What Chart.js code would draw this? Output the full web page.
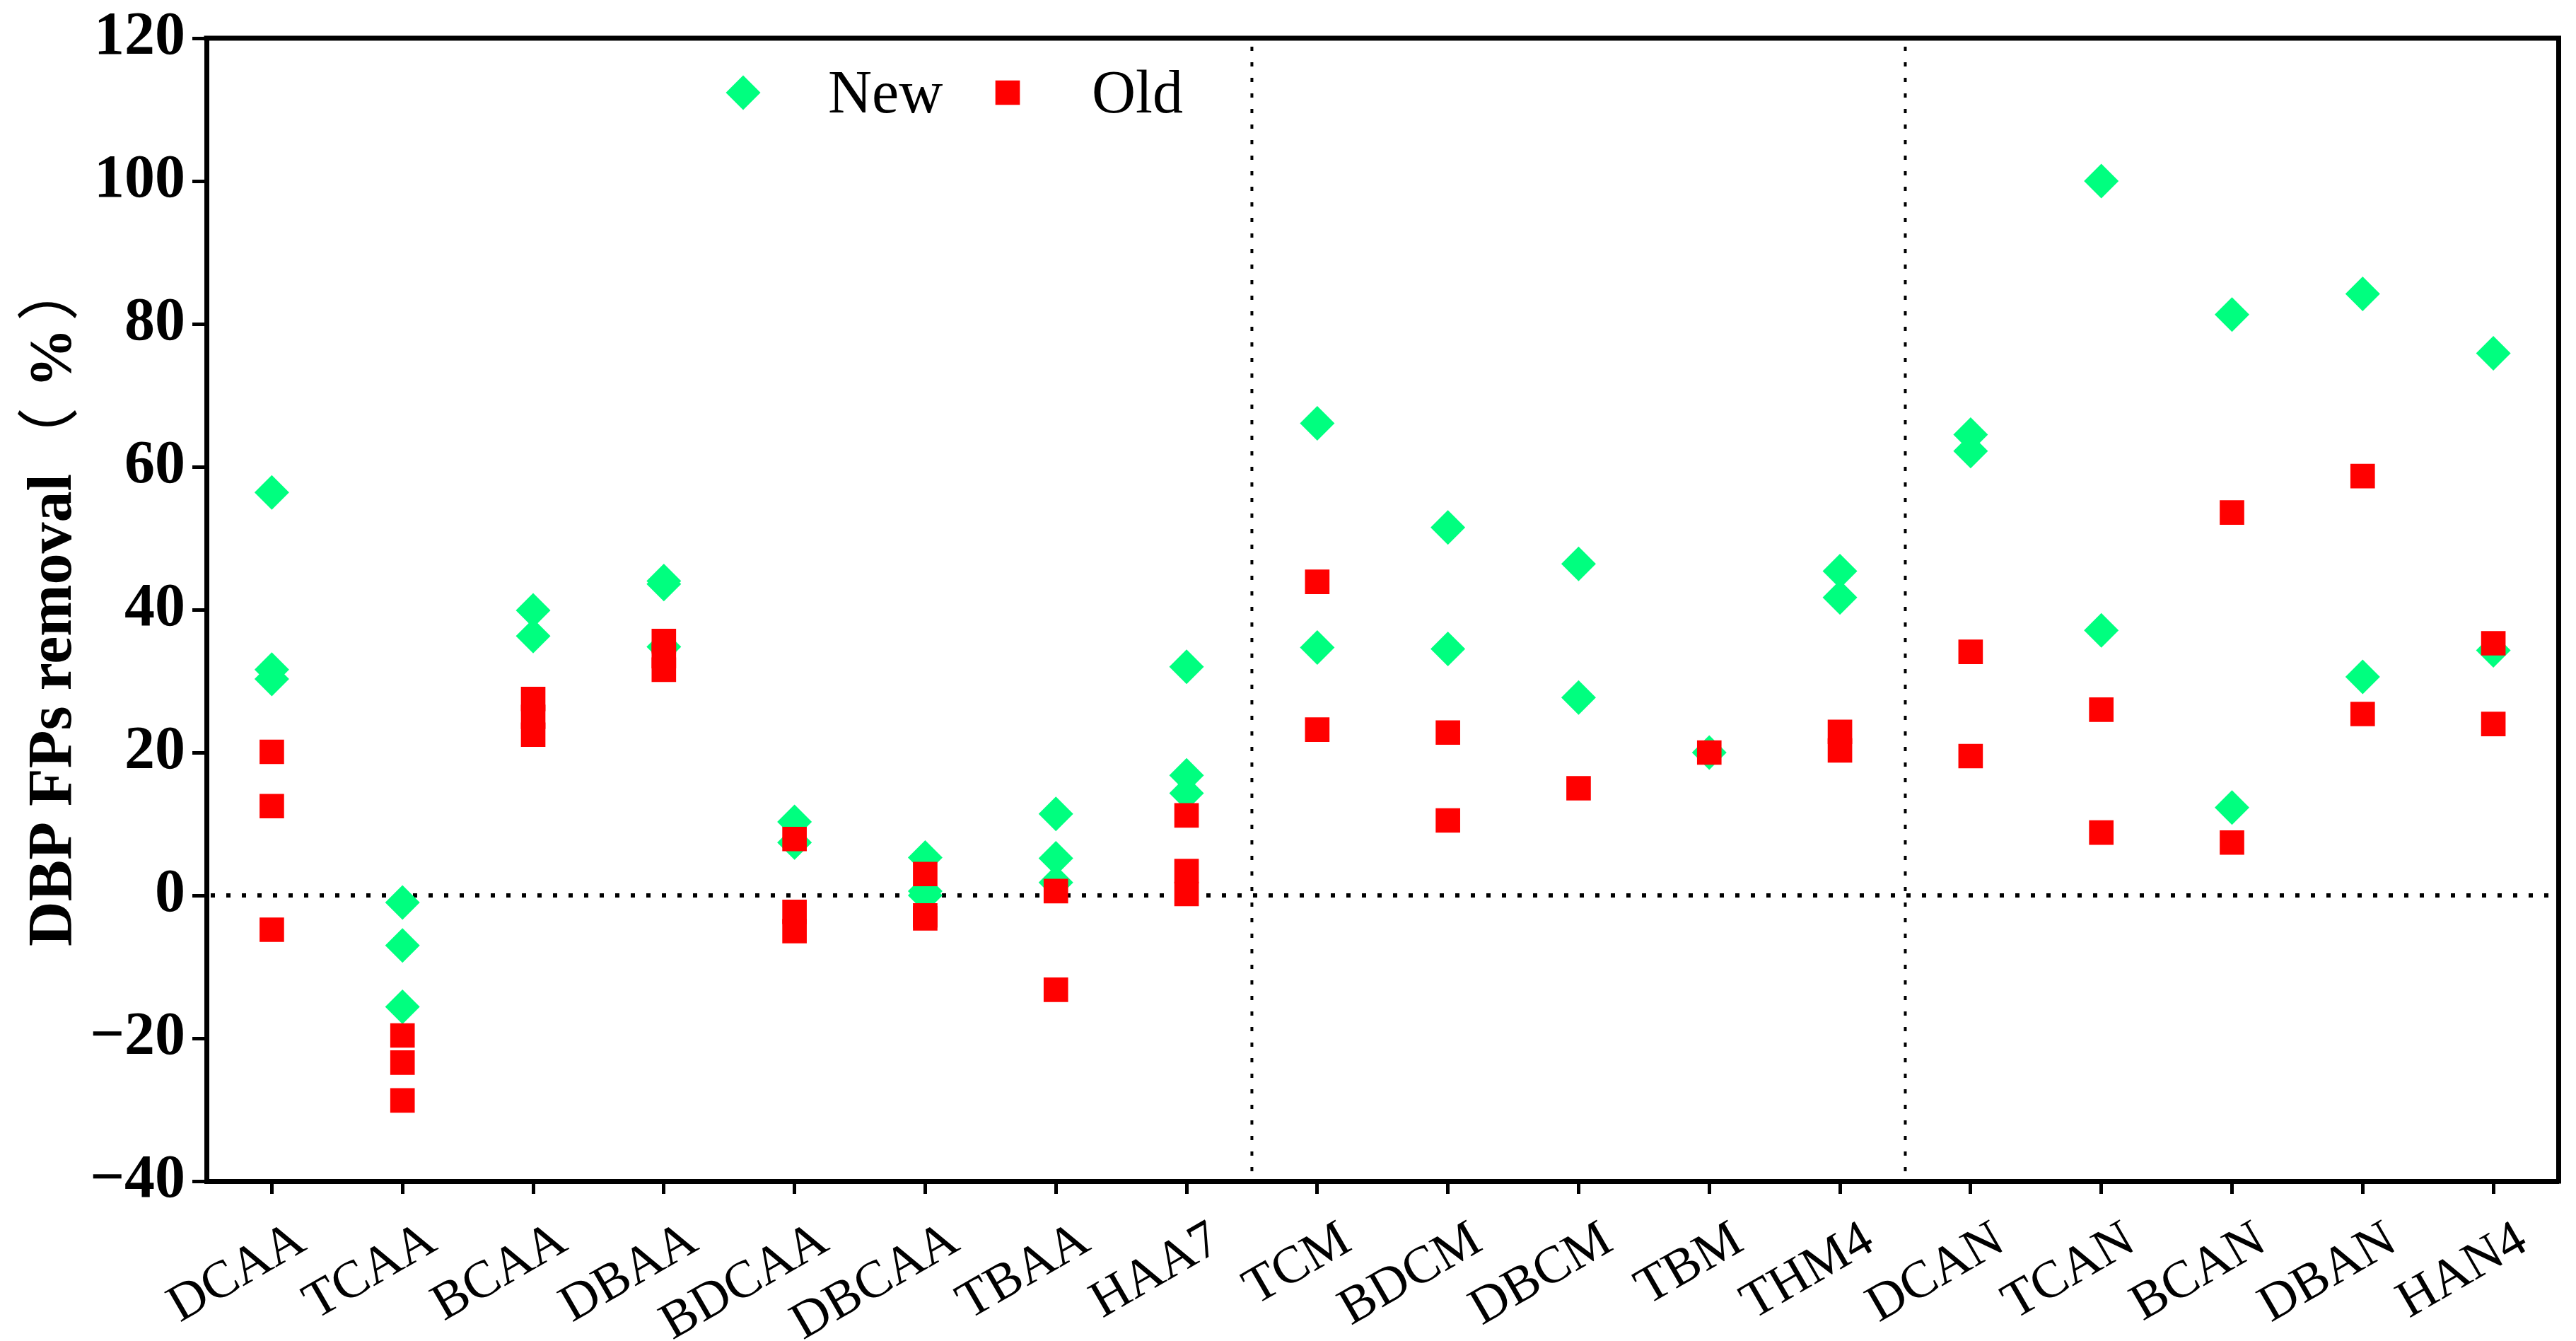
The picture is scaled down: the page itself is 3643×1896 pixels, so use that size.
<!DOCTYPE html>
<html>
<head>
<meta charset="utf-8">
<script src="https://cdn.jsdelivr.net/npm/chart.js@4.4.1/dist/chart.umd.min.js"></script>
<style>
  html, body { margin: 0; padding: 0; background: #fff; }
  #wrap { width: 3643px; height: 1896px; position: relative; }
</style>
</head>
<body>
<div id="wrap"><canvas id="c"></canvas></div>
<script>
// ---------------- data ----------------
const categories = ['DCAA','TCAA','BCAA','DBAA','BDCAA','DBCAA','TBAA','HAA7',
                    'TCM','BDCM','DBCM','TBM','THM4',
                    'DCAN','TCAN','BCAN','DBAN','HAN4'];
const newRemoval = [
  [56.4, 31.6, 30.3],
  [-1.0, -7.0, -15.6],
  [39.9, 36.3],
  [44.0, 43.6, 34.8],
  [10.3, 7.4],
  [5.3, 0.6, 0.0],
  [11.4, 5.2, 1.8],
  [32.0, 16.8, 14.3],
  [66.1, 34.7],
  [51.5, 34.5],
  [46.4, 27.7],
  [20.0],
  [45.4, 41.7],
  [64.5, 62.2],
  [100.0, 37.1],
  [81.3, 12.3],
  [84.2, 30.6],
  [75.9, 34.3]
];
const oldRemoval = [
  [20.1, 12.5, -4.8],
  [-19.6, -23.4, -28.7],
  [27.5, 25.0, 22.5],
  [35.6, 33.5, 31.6],
  [7.9, -2.3, -5.0],
  [3.0, -2.8, -3.2],
  [0.6, -13.2],
  [11.2, 3.4, 0.2],
  [43.9, 23.2],
  [22.8, 10.5],
  [15.0],
  [20.0],
  [22.9, 20.3],
  [34.1, 19.5],
  [26.0, 8.8],
  [53.6, 7.4],
  [58.7, 25.4],
  [35.3, 24.0]
];
const seriesNames = ['New', 'Old'];
const yTicks = [-40, -20, 0, 20, 40, 60, 80, 100, 120];
const groupStarts = [8, 13];   // first category of each new group
const yTitleParts = ['DBP FPs removal', '（', '%', '）'];   // "DBP FPs removal （%）"

// ---------------- build ----------------
const SERIF = "'Liberation Serif', 'Times New Roman', serif";
const CJK = "'Noto Sans CJK SC', 'Noto Sans CJK JP', sans-serif";
const GREEN = '#00FF7F';
const RED = '#FF0000';

function toPoints(groups) {
  const pts = [];
  groups.forEach((vals, i) => vals.forEach(v => pts.push({ x: categories[i], y: v })));
  return pts;
}

const decorPlugin = {
  id: 'decor',
  beforeDatasetsDraw(chart) {
    const { ctx, chartArea: a, scales: { x, y } } = chart;
    ctx.save();
    ctx.strokeStyle = '#000';
    ctx.lineCap = 'butt';
    ctx.lineWidth = 6;
    ctx.setLineDash([6, 16]);
    const y0 = y.getPixelForValue(0);
    ctx.beginPath(); ctx.moveTo(a.left + 6, y0); ctx.lineTo(a.right, y0); ctx.stroke();
    ctx.lineWidth = 4;
    groupStarts.forEach(i => {
      const xp = (x.getPixelForValue(i - 1) + x.getPixelForValue(i)) / 2;
      ctx.beginPath(); ctx.moveTo(xp, a.top + 12); ctx.lineTo(xp, a.bottom); ctx.stroke();
    });
    ctx.restore();
  },
  afterDraw(chart) {
    const { ctx, chartArea: a } = chart;
    ctx.save();
    // top and right frame
    ctx.strokeStyle = '#000';
    ctx.lineWidth = 7;
    ctx.beginPath();
    ctx.moveTo(a.left - 3.5, a.top);
    ctx.lineTo(a.right, a.top);
    ctx.lineTo(a.right, a.bottom + 3.5);
    ctx.stroke();

    // legend
    const items = [
      { text: seriesNames[0], style: 'rectRot', color: GREEN, mx: 759, tx: 879 },
      { text: seriesNames[1], style: 'rect', color: RED, mx: 1133, tx: 1252 }
    ];
    ctx.font = '86px ' + SERIF;
    ctx.textBaseline = 'alphabetic';
    ctx.textAlign = 'left';
    items.forEach(it => {
      ctx.fillStyle = it.color;
      Chart.helpers.drawPoint(ctx, { pointStyle: it.style, radius: 24.5, rotation: 0, borderWidth: 0 },
        a.left + it.mx, a.top + 77);
      ctx.fillStyle = '#000';
      ctx.fillText(it.text, a.left + it.tx, a.top + 105);
    });

    // y-axis title (rotated), pieces placed by ink extent
    const start = (a.top + a.bottom) / 2 + 475;
    ctx.translate(100, start);
    ctx.rotate(-Math.PI / 2);
    const fonts = ['bold 88px ' + SERIF, '88px ' + CJK, 'bold 84px ' + SERIF, '88px ' + CJK];
    const inkStart = [0, 734, 797, 887];
    yTitleParts.forEach((t, i) => {
      ctx.font = fonts[i];
      const m = ctx.measureText(t);
      ctx.fillText(t, inkStart[i] + m.actualBoundingBoxLeft, 0);
    });
    ctx.restore();
  }
};

Chart.defaults.font.family = SERIF;
Chart.defaults.color = '#000';

new Chart(document.getElementById('c'), {
  type: 'scatter',
  data: {
    datasets: [
      {
        label: seriesNames[0],
        data: toPoints(newRemoval),
        pointStyle: 'rectRot',
        pointRadius: 24.5,
        backgroundColor: GREEN,
        borderColor: GREEN,
        borderWidth: 0,
        order: 1
      },
      {
        label: seriesNames[1],
        data: toPoints(oldRemoval),
        pointStyle: 'rect',
        pointRadius: 24.5,
        backgroundColor: RED,
        borderColor: RED,
        borderWidth: 0,
        order: 0
      }
    ]
  },
  options: {
    responsive: true,
    maintainAspectRatio: false,
    animation: false,
    events: [],
    layout: { padding: { left: 0, right: 21, top: 54, bottom: 0 } },
    plugins: {
      legend: { display: false },
      tooltip: { enabled: false }
    },
    scales: {
      x: {
        type: 'category',
        labels: categories,
        offset: true,
        afterFit(scale) { scale.height = 226; },
        grid: { display: true, drawOnChartArea: false, drawTicks: true, tickLength: 18, tickWidth: 5, tickColor: '#000', offset: false },
        border: { display: true, color: '#000', width: 7 },
        ticks: {
          autoSkip: false,
          minRotation: 30,
          maxRotation: 30,
          padding: 22,
          labelOffset: 42,
          font: { size: 74, family: SERIF },
          color: '#000'
        }
      },
      y: {
        type: 'linear',
        min: -40,
        max: 120,
        afterFit(scale) { scale.width = 292; },
        afterBuildTicks(scale) { scale.ticks = yTicks.map(v => ({ value: v })); },
        grid: { display: true, drawOnChartArea: false, drawTicks: true, tickLength: 20, tickWidth: 5, tickColor: '#000' },
        border: { display: true, color: '#000', width: 7 },
        ticks: {
          padding: 10,
          font: { size: 86, weight: 'bold', family: SERIF, lineHeight: 1.0 },
          color: '#000',
          callback: v => (v < 0 ? '\u2212' + Math.abs(v) : String(v))
        },
        title: { display: false }
      }
    }
  },
  plugins: [decorPlugin]
});
</script>
</body>
</html>
